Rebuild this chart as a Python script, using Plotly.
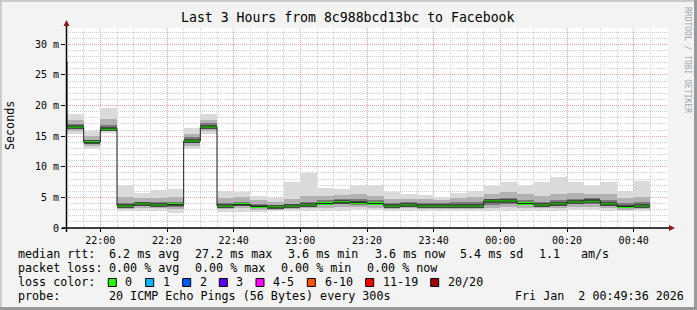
import plotly.graph_objects as go
import pandas as pd

W, H = 697, 310
ML, MR, MT, MB = 66, 29, 28, 82
PW = W - ML - MR
PH = H - MT - MB

def px(x):
    return (x - ML) / PW

def py(y):
    return (H - MB - y) / PH

# ---------------- data ----------------
interval_start = pd.date_range("2026-01-01 21:45:00", periods=36, freq="5min")
rtt_median = [27.2, 16.5, 14.0, 16.2, 3.6, 3.9, 3.75, 3.85, 14.2, 16.5, 3.6, 3.85, 3.5, 3.4, 3.6, 3.75,
              4.0, 4.2, 4.15, 4.0, 3.6, 3.75, 3.6, 3.6, 3.6, 3.6, 4.4, 4.4, 4.0, 3.75, 3.9, 4.25,
              4.45, 3.9, 3.5, 3.6]
rtt_min = [20.0, 15.3, 12.9, 15.5, 2.8, 2.7, 2.8, 2.4, 12.85, 15.3, 2.6, 2.6, 2.6, 2.8, 2.8, 2.8,
           2.7, 2.8, 2.9, 2.9, 2.8, 2.8, 2.8, 2.7, 2.7, 2.7, 2.8, 2.8, 2.8, 2.8, 2.8, 2.9,
           2.9, 2.8, 2.7, 2.7]
rtt_p20 = [24.0, 15.9, 13.4, 15.8, 3.1, 3.2, 3.2, 3.1, 13.4, 15.9, 3.1, 3.2, 3.0, 3.0, 3.1, 3.2,
           3.3, 3.4, 3.4, 3.3, 3.1, 3.2, 3.1, 3.1, 3.1, 3.1, 3.3, 3.4, 3.3, 3.2, 3.3, 3.4,
           3.5, 3.3, 3.0, 3.1]
rtt_p35 = [26.0, 16.2, 13.7, 16.0, 3.4, 3.6, 3.5, 3.5, 13.8, 16.2, 3.4, 3.6, 3.3, 3.2, 3.4, 3.5,
           3.7, 3.9, 3.8, 3.7, 3.4, 3.5, 3.4, 3.4, 3.4, 3.4, 3.8, 3.9, 3.7, 3.5, 3.6, 3.9,
           4.0, 3.6, 3.3, 3.4]
rtt_p65 = [29.0, 17.0, 14.4, 16.9, 4.1, 4.3, 4.2, 4.3, 14.8, 17.1, 4.1, 4.3, 3.9, 3.8, 4.0, 4.2,
           4.5, 4.7, 4.7, 4.5, 4.1, 4.2, 4.1, 4.1, 4.2, 4.2, 4.8, 4.9, 4.5, 4.3, 4.5, 4.8,
           4.9, 4.5, 4.1, 4.2]
rtt_p80 = [33.0, 17.7, 15.0, 17.8, 5.0, 4.9, 4.9, 5.0, 15.4, 17.7, 4.9, 5.0, 4.5, 4.3, 4.8, 5.2,
           5.3, 5.4, 5.5, 5.3, 4.8, 4.8, 4.7, 4.6, 4.9, 5.0, 5.6, 5.9, 5.5, 5.3, 5.6, 5.7,
           5.6, 5.5, 4.9, 5.1]
rtt_max = [40.0, 18.6, 15.9, 19.6, 7.0, 5.75, 6.2, 6.35, 16.3, 18.6, 6.0, 5.9, 5.2, 4.85, 7.55, 9.0,
           6.5, 6.3, 7.0, 7.0, 5.9, 5.5, 5.4, 5.0, 5.75, 6.0, 6.85, 7.55, 7.0, 7.55, 8.25, 7.55,
           7.0, 7.55, 6.0, 7.7]

y_tick_vals = [0, 5, 10, 15, 20, 25, 30]
y_tick_text = ["0", "5 m", "10 m", "15 m", "20 m", "25 m", "30 m"]

title_text = "Last 3 Hours from 8c988bcd13bc to Facebook"
loss_labels = ["0", "1", "2", "3", "4-5", "6-10", "11-19", "20/20"]
loss_colors = ["#26ff00", "#00b8ff", "#0059ff", "#5e00ff", "#ff00ff", "#ff5500", "#ff0000", "#a00000"]

STEP_MS = 300000
MONO = "DejaVu Sans Mono"

fig = go.Figure()

smoke_layers = [
    (rtt_min, rtt_max, "#dadada"),
    (rtt_p20, rtt_p80, "#b2b2b2"),
    (rtt_p35, rtt_p65, "#7a7a7a"),
]
for lo, hi, col in smoke_layers:
    fig.add_trace(go.Bar(
        x=interval_start, base=lo, y=[h - l for l, h in zip(lo, hi)],
        width=STEP_MS, offset=0, marker=dict(color=col, line=dict(width=0)),
        hoverinfo="skip", showlegend=False))

# dark core around median
core = 0.3
fig.add_trace(go.Bar(
    x=interval_start, base=[m - core for m in rtt_median], y=[2 * core] * len(rtt_median),
    width=STEP_MS, offset=0, marker=dict(color="#484848", line=dict(width=0)),
    hoverinfo="skip", showlegend=False))

# black step line through medians
step_x = list(interval_start) + [interval_start[-1] + pd.Timedelta(minutes=5)]
step_y = rtt_median + [rtt_median[-1]]
fig.add_trace(go.Scatter(x=step_x, y=step_y, mode="lines", line=dict(shape="hv", color="#202020", width=1),
                         hoverinfo="skip", showlegend=False))

# green median band (loss 0)
band = 0.34
fig.add_trace(go.Bar(
    x=interval_start, base=[m - band / 2 for m in rtt_median], y=[band] * len(rtt_median),
    width=STEP_MS, offset=0, marker=dict(color=loss_colors[0], line=dict(width=0)),
    hoverinfo="skip", showlegend=False))

annotations = []

def text_at(x, y, s, size=11.7, color="#000000", anchor="left", angle=0):
    annotations.append(dict(
        x=px(x), y=py(y), xref="paper", yref="paper", text=s.replace(" ", "\u00a0"),
        showarrow=False, xanchor=anchor, yanchor="middle", textangle=angle,
        font=dict(family=MONO, size=size, color=color)))

text_at(348, 18, title_text, size=13.2, anchor="center")
text_at(10, 126, "Seconds", size=11.7, anchor="center", angle=-90)
text_at(688, 60, "RRDTOOL / TOBI OETIKER", size=8, color="#a6a6a6", anchor="center", angle=90)

row1 = [(16, "median rtt:"), (107.3, "6.2 ms avg"), (193.3, "27.2 ms max"), (286, "3.6 ms min"),
        (372.7, "3.6 ms now"), (457.7, "5.4 ms sd"), (536.7, "1.1"), (579.3, "am/s")]
row2 = [(16, "packet loss:"), (107.3, "0.00 % avg"), (193.3, "0.00 % max"), (279.3, "0.00 % min"),
        (365, "0.00 % now")]
row4 = [(16, "probe:"), (107.3, "20 ICMP Echo Pings (56 Bytes) every 300s"), (513.3, "Fri Jan  2 00:49:36 2026")]
for x, s in row1:
    text_at(x, 254.3, s)
for x, s in row2:
    text_at(x, 268.3, s)
for x, s in row4:
    text_at(x, 296, s)
text_at(16, 282.3, "loss color:")

swatch_x = [108.3, 145.7, 182.7, 219.3, 256, 307.3, 365.7, 430.7]
label_x = [123.3, 160.7, 197.7, 234.3, 271, 322.7, 380.7, 445.7]
shapes = []
for sx, lx, lab, col in zip(swatch_x, label_x, loss_labels, loss_colors):
    shapes.append(dict(type="rect", xref="paper", yref="paper",
                       x0=px(sx), x1=px(sx + 8), y0=py(286.5), y1=py(278.5),
                       fillcolor=col, line=dict(color="#000000", width=1)))
    text_at(lx, 282.3, lab)

# axis lines and arrows
shapes.append(dict(type="line", xref="paper", yref="paper", x0=px(62), x1=px(670), y0=py(228), y1=py(228),
                   line=dict(color="#000000", width=1.5)))
shapes.append(dict(type="line", xref="paper", yref="paper", x0=px(66.5), x1=px(66.5), y0=py(232), y1=py(24),
                   line=dict(color="#000000", width=1.5)))
arrow_col = "#8b1a1a"
shapes.append(dict(type="path", xref="paper", yref="paper",
                   path=f"M {px(66.5)} {py(20)} L {px(63.5)} {py(26)} L {px(69.5)} {py(26)} Z",
                   fillcolor=arrow_col, line=dict(width=0)))
shapes.append(dict(type="path", xref="paper", yref="paper",
                   path=f"M {px(675)} {py(228)} L {px(669)} {py(225)} L {px(669)} {py(231)} Z",
                   fillcolor=arrow_col, line=dict(width=0)))
# image frame
shapes.append(dict(type="line", xref="paper", yref="paper", x0=px(0), x1=px(697), y0=py(1), y1=py(1),
                   line=dict(color="#cbcbcb", width=2)))
shapes.append(dict(type="line", xref="paper", yref="paper", x0=px(1), x1=px(1), y0=py(0), y1=py(310),
                   line=dict(color="#cbcbcb", width=2)))
shapes.append(dict(type="line", xref="paper", yref="paper", x0=px(0), x1=px(697), y0=py(308.5), y1=py(308.5),
                   line=dict(color="#999999", width=3)))
shapes.append(dict(type="line", xref="paper", yref="paper", x0=px(695.5), x1=px(695.5), y0=py(0), y1=py(310),
                   line=dict(color="#999999", width=3)))

fig.update_layout(
    width=W, height=H, autosize=False,
    margin=dict(l=ML, r=MR, t=MT, b=MB, pad=0),
    paper_bgcolor="#f3f3f3", plot_bgcolor="#ffffff",
    barmode="overlay", bargap=0,
    showlegend=False,
    annotations=annotations, shapes=shapes,
    font=dict(family=MONO, size=10, color="#000000"),
)
fig.update_xaxes(
    type="date", range=["2026-01-01 21:49:42", "2026-01-02 00:50:18"],
    tick0="2026-01-01 22:00:00", dtick=20 * 60 * 1000, tickformat="%H:%M",
    showgrid=True, gridcolor="#f2a0a0", griddash="1px,1px", gridwidth=1,
    minor=dict(dtick=5 * 60 * 1000, tick0="2026-01-01 22:00:00", showgrid=True,
               gridcolor="#cfcfcf", griddash="1px,1px", gridwidth=1),
    ticks="outside", ticklen=3, tickcolor="#000000",
    tickfont=dict(family=MONO, size=10, color="#000000"),
    showline=False, zeroline=False, layer="above traces", fixedrange=True,
)
fig.update_yaxes(
    range=[0, 32.66], tickvals=y_tick_vals, ticktext=y_tick_text,
    showgrid=True, gridcolor="#f2a0a0", griddash="1px,1px", gridwidth=1,
    minor=dict(dtick=1, tick0=0, showgrid=True, gridcolor="#cfcfcf", griddash="1px,1px", gridwidth=1),
    ticks="outside", ticklen=4, tickcolor="#000000",
    tickfont=dict(family=MONO, size=10, color="#000000"),
    showline=False, zeroline=False, layer="above traces", fixedrange=True,
)

fig.write_html("out.html")
